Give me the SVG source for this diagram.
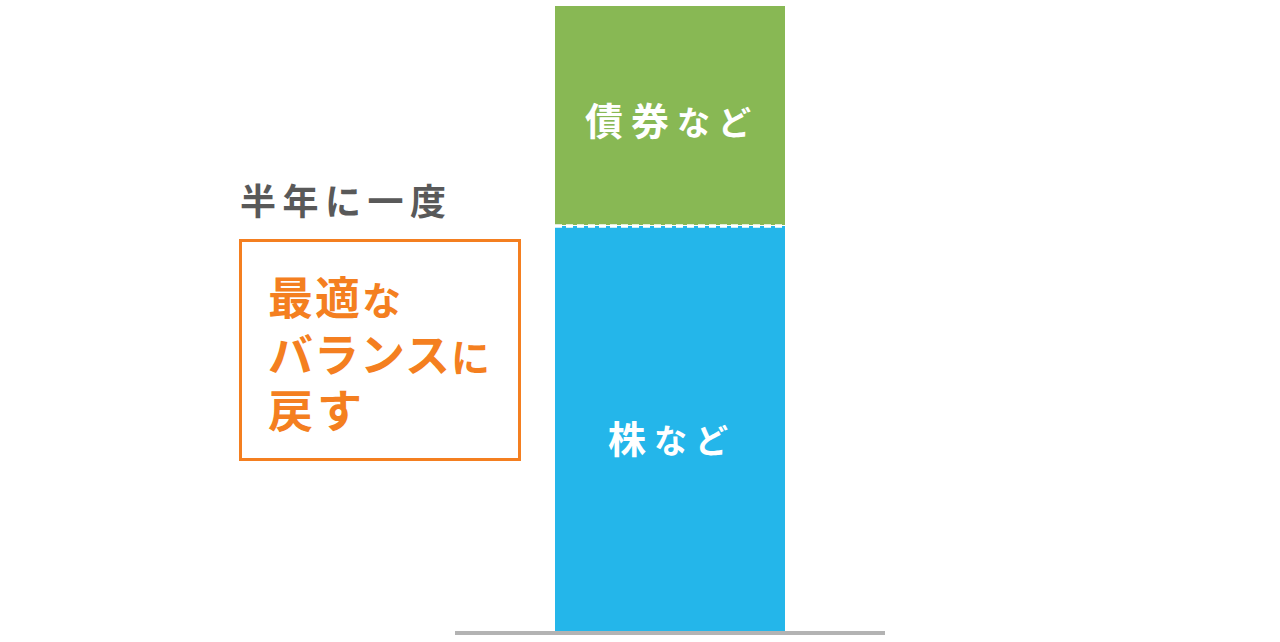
<svg xmlns="http://www.w3.org/2000/svg" width="1280" height="642" viewBox="0 0 1280 642">
<style>
.t{font-family:"Noto Sans CJK JP","Noto Sans CJK SC",sans-serif;font-weight:bold}
.w{fill:#ffffff}
.o{fill:#f47f20}
</style>
<rect width="1280" height="642" fill="#ffffff"/>
<g id="bonds">
<rect x="555" y="6" width="230" height="219" fill="#88b854"/>
<text class="t w" x="585" y="135" font-size="38" letter-spacing="8">債券<tspan font-size="33">など</tspan></text>
</g>
<g id="stocks">
<rect x="555" y="226" width="230" height="406" fill="#24b6ea"/>
<text class="t w" x="608" y="453" font-size="38" letter-spacing="8">株<tspan font-size="33">など</tspan></text>
</g>
<g id="connectors">
<line x1="555" y1="226" x2="785" y2="226" stroke="#ffffff" stroke-width="3.5" stroke-dasharray="7,4"/>
<line x1="455" y1="633" x2="885" y2="633" stroke="#b3b3b3" stroke-width="4"/>
</g>
<g id="label">
<text class="t" x="240" y="215" font-size="36" fill="#595959" letter-spacing="6.5">半年に一度</text>
</g>
<g id="note">
<rect x="240.5" y="240.5" width="279" height="219" fill="none" stroke="#f47f20" stroke-width="3"/>
<text class="t o" x="268" y="315" font-size="45" letter-spacing="2">最適<tspan font-size="39">な</tspan></text>
<text class="t o" x="268" y="372" font-size="45" letter-spacing="1">バランス<tspan font-size="39">に</tspan></text>
<text class="t o" x="268" y="428" font-size="45" letter-spacing="4">戻す</text>
</g>
</svg>
